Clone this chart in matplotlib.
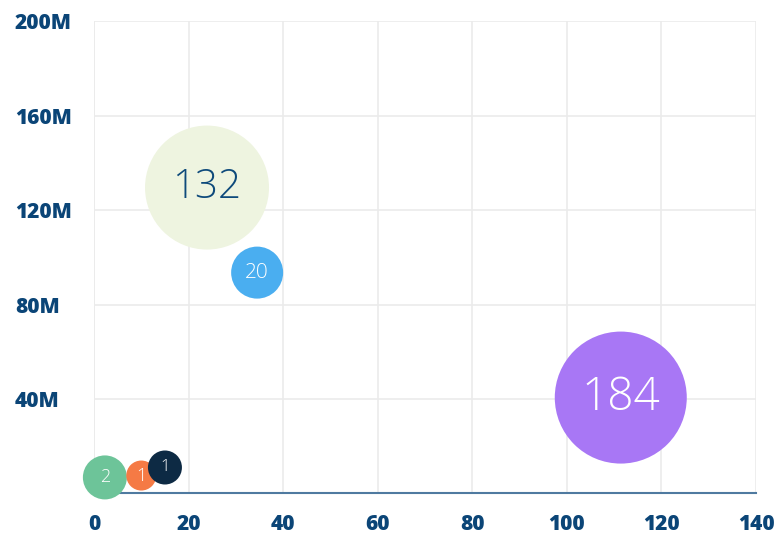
import numpy as np
import matplotlib
matplotlib.use('Agg')
import matplotlib.pyplot as plt
from matplotlib.ticker import FuncFormatter

# bubble data
x_vals = [23.9, 34.5, 111.4, 2.3, 10.0, 15.0]
y_vals = [129.5e6, 93.5e6, 40.6e6, 6.8e6, 7.6e6, 11.0e6]
bubble_size = [62, 26, 66, 22, 15, 17]
labels = ['132', '20', '184', '2', '1', '1']

colors = ['#eef4e0', '#4aaef0', '#a877f5', '#6dc499', '#f57a45', '#0d2a44']
text_colors = ['#0e4a7b', 'white', 'white', 'white', 'white', 'white']
text_sizes = [29, 15, 33, 13, 13, 12]

x_ticks = [0, 20, 40, 60, 80, 100, 120, 140]
y_ticks = [40e6, 80e6, 120e6, 160e6, 200e6]

tick_col = '#0b4577'

fig = plt.figure(figsize=(7.75, 5.35), dpi=100)
ax = fig.add_axes([0.1213, 0.0776, 0.9755 - 0.1213, 0.9607 - 0.0776])

ax.set_xlim(0, 140)
ax.set_ylim(0, 200e6)

# radius in px -> marker area in points^2
s = [(2 * r * 72 / 100.0) ** 2 for r in bubble_size]
ax.scatter(x_vals, y_vals, s=s, c=colors, edgecolors='none', zorder=3, clip_on=False)

for xv, yv, lab, tc, ts in zip(x_vals, y_vals, labels, text_colors, text_sizes):
    ax.text(xv, yv, lab, color=tc, fontsize=ts, ha='center', va='center',
            family='Open Sans', fontweight='light', zorder=4)

ax.set_xticks(x_ticks)
ax.set_yticks(y_ticks)
ax.yaxis.set_major_formatter(FuncFormatter(lambda v, p: '%dM' % int(v / 1e6)))
ax.grid(True, color='#ebebeb', linewidth=1.2, zorder=0)
ax.axvline(0, color='#ebebeb', linewidth=1.2, zorder=0)
ax.set_axisbelow(True)

for sp in ['top', 'right', 'left']:
    ax.spines[sp].set_visible(False)
ax.spines['bottom'].set_color('#4f7aa0')
ax.spines['bottom'].set_linewidth(1.5)
ax.spines['bottom'].set_zorder(2)

ax.tick_params(axis='both', length=0, labelsize=15, labelcolor=tick_col)
ax.tick_params(axis='x', pad=15)
ax.tick_params(axis='y', pad=57)
for t in ax.get_xticklabels() + ax.get_yticklabels():
    t.set_family('Open Sans')
    t.set_fontweight('black')
for t in ax.get_yticklabels():
    t.set_ha('left')

fig.savefig('out.png', dpi=100)
